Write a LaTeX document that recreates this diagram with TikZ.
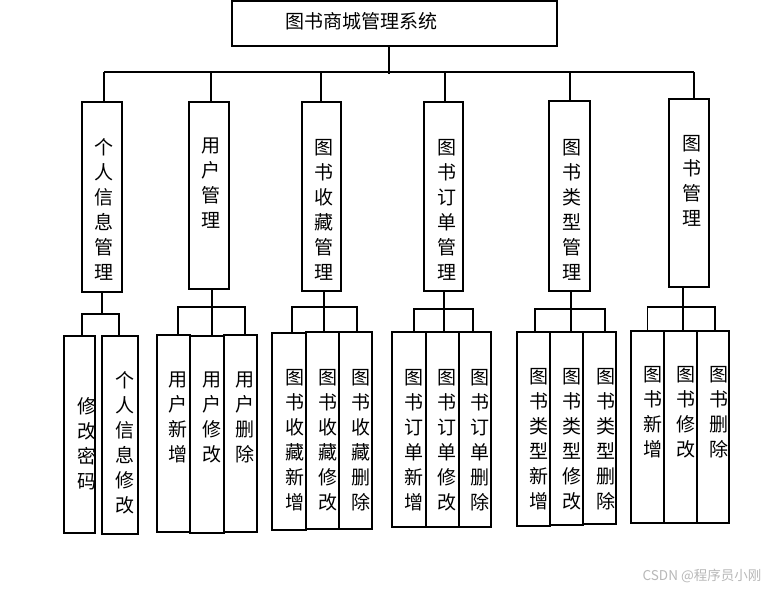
\documentclass[tikz,border=0pt]{standalone}
\usepackage{fontspec}
\newfontfamily\cjk{Noto Sans CJK SC}
\begin{document}
\begin{tikzpicture}[x=1pt,y=-1pt,
  box/.style={draw, line width=1.1pt, inner sep=0pt, outer sep=0pt},
  txt/.style={font=\cjk\fontsize{19}{25}\selectfont, align=center, inner sep=0pt},
  conn/.style={line width=1.1pt}]
\fill[white] (0,0) rectangle (772,589);
\useasboundingbox (0,0) rectangle (772,589);

% root
\node[box, minimum width=325, minimum height=45] (root) at (394.5,23.5) {};
\node[txt] (roott) at (361,21) {图书商城管理系统};

% level 1
\node[box, minimum width=40, minimum height=190] (L1a) at (102,197) {};
\node[box, minimum width=40, minimum height=187] (L1b) at (209,195.5) {};
\node[box, minimum width=39, minimum height=189] (L1c) at (321.5,196.5) {};
\node[box, minimum width=39, minimum height=189] (L1d) at (443.5,196.5) {};
\node[box, minimum width=41, minimum height=190] (L1e) at (569.5,196) {};
\node[box, minimum width=40, minimum height=188] (L1f) at (689,193) {};
\node[txt] (L1at) at (104,209.5) {个\\人\\信\\息\\管\\理};
\node[txt] (L1bt) at (211,183.5) {用\\户\\管\\理};
\node[txt] (L1ct) at (324,209.5) {图\\书\\收\\藏\\管\\理};
\node[txt] (L1dt) at (447,209.5) {图\\书\\订\\单\\管\\理};
\node[txt] (L1et) at (572,209.5) {图\\书\\类\\型\\管\\理};
\node[txt] (L1ft) at (692,181) {图\\书\\管\\理};

% level 2 boxes
\node[box, minimum width=31, minimum height=197] (a1) at (79.5,434.5) {};
\node[box, minimum width=36, minimum height=198] (a2) at (120,435) {};
\node[box, minimum width=33, minimum height=197] (b1) at (173.5,433.5) {};
\node[box, minimum width=34, minimum height=197] (b2) at (207,434.5) {};
\node[box, minimum width=33, minimum height=197] (b3) at (240.5,433.5) {};
\node[box, minimum width=34, minimum height=197] (c1) at (289,431.5) {};
\node[box, minimum width=33, minimum height=197] (c2) at (322.5,430.5) {};
\node[box, minimum width=33, minimum height=197] (c3) at (355.5,430.5) {};
\node[box, minimum width=34, minimum height=195] (d1) at (409,429.5) {};
\node[box, minimum width=33, minimum height=195] (d2) at (442.5,429.5) {};
\node[box, minimum width=32, minimum height=195] (d3) at (475,429.5) {};
\node[box, minimum width=33, minimum height=194] (e1) at (533.5,429) {};
\node[box, minimum width=33, minimum height=193] (e2) at (566.5,428.5) {};
\node[box, minimum width=33, minimum height=192] (e3) at (599.5,428) {};
\node[box, minimum width=33, minimum height=192] (f1) at (647.5,427) {};
\node[box, minimum width=33, minimum height=192] (f2) at (680.5,427) {};
\node[box, minimum width=32, minimum height=192] (f3) at (713,427) {};

% level 2 texts
\node[txt] (a1t) at (87,443.5) {修\\改\\密\\码};
\node[txt] (a2t) at (125,442.5) {个\\人\\信\\息\\修\\改};
\node[txt] (b1t) at (178,417) {用\\户\\新\\增};
\node[txt] (b2t) at (212,417) {用\\户\\修\\改};
\node[txt] (b3t) at (245,417) {用\\户\\删\\除};
\node[txt] (c1t) at (295,440.5) {图\\书\\收\\藏\\新\\增};
\node[txt] (c2t) at (328,440.5) {图\\书\\收\\藏\\修\\改};
\node[txt] (c3t) at (361,440.5) {图\\书\\收\\藏\\删\\除};
\node[txt] (d1t) at (414,440) {图\\书\\订\\单\\新\\增};
\node[txt] (d2t) at (447,440) {图\\书\\订\\单\\修\\改};
\node[txt] (d3t) at (480,440) {图\\书\\订\\单\\删\\除};
\node[txt] (e1t) at (539,439.5) {图\\书\\类\\型\\新\\增};
\node[txt] (e2t) at (572,439.5) {图\\书\\类\\型\\修\\改};
\node[txt] (e3t) at (606,439.5) {图\\书\\类\\型\\删\\除};
\node[txt] (f1t) at (653,412.5) {图\\书\\新\\增};
\node[txt] (f2t) at (686,412.5) {图\\书\\修\\改};
\node[txt] (f3t) at (719,412.5) {图\\书\\删\\除};

% top connectors
\coordinate (tb) at (389,72);
\draw[conn] (root.south -| tb) -- ([yshift=-2]tb);
\draw[conn] ([xshift=2]L1a.north |- tb) -- ([xshift=5]L1f.north |- tb);
\draw[conn] ([xshift=2]L1a.north |- tb) -- ([xshift=2]L1a.north);
\draw[conn] ([xshift=2]L1b.north |- tb) -- ([xshift=2]L1b.north);
\draw[conn] ([xshift=-0.5]L1c.north |- tb) -- ([xshift=-0.5]L1c.north);
\draw[conn] ([xshift=1.5]L1d.north |- tb) -- ([xshift=1.5]L1d.north);
\draw[conn] ([xshift=0.5]L1e.north |- tb) -- ([xshift=0.5]L1e.north);
\draw[conn] ([xshift=5]L1f.north |- tb) -- ([xshift=5]L1f.north);

% group buses
\coordinate (busa) at (0,314);
\coordinate (busb) at (0,307);
\coordinate (busc) at (0,307);
\coordinate (busd) at (0,309);
\coordinate (buse) at (0,309);
\coordinate (busf) at (0,307);

% group a
\draw[conn] (L1a.south) -- (L1a.south |- busa);
\draw[conn] ([xshift=2.5]a1.north) |- ([xshift=-1]a2.north |- busa) -- ([xshift=-1]a2.north);
% group b
\draw[conn] ([xshift=3]L1b.south) -- ([xshift=3]L1b.south |- busb);
\draw[conn] ([xshift=4.5]b1.north) |- ([xshift=4.5]b3.north |- busb) -- ([xshift=4.5]b3.north);
\draw[conn] ([xshift=5]b2.north |- busb) -- ([xshift=5]b2.north);
% group c
\draw[conn] ([xshift=2.5]L1c.south) -- ([xshift=2.5]L1c.south |- busc);
\draw[conn] ([xshift=3]c1.north) |- ([xshift=1.5]c3.north |- busc) -- ([xshift=1.5]c3.north);
\draw[conn] ([xshift=1.5]c2.north |- busc) -- ([xshift=1.5]c2.north);
% group d
\draw[conn] ([xshift=0.5]L1d.south) -- ([xshift=0.5]L1d.south |- busd);
\draw[conn] ([xshift=5]d1.north) |- ([xshift=-2]d3.north |- busd) -- ([xshift=-2]d3.north);
\draw[conn] ([xshift=1.5]d2.north |- busd) -- ([xshift=1.5]d2.north);
% group e
\draw[conn] ([xshift=1.5]L1e.south) -- ([xshift=1.5]L1e.south |- buse);
\draw[conn] ([xshift=1.5]e1.north) |- ([xshift=5.5]e3.north |- buse) -- ([xshift=5.5]e3.north);
\draw[conn] ([xshift=4.5]e2.north |- buse) -- ([xshift=4.5]e2.north);
% group f
\draw[conn] ([xshift=-6]L1f.south) -- ([xshift=-6]L1f.south |- busf);
\draw[conn] (f1.north) |- ([xshift=2]f3.north |- busf) -- ([xshift=2]f3.north);
\draw[conn] ([xshift=2.5]f2.north |- busf) -- ([xshift=2.5]f2.north);

% watermark
\node[font=\cjk\fontsize{13.5}{14}\selectfont, text=black!28, inner sep=0pt] (wm) at (702,576) {CSDN @程序员小刚};
\end{tikzpicture}
\end{document}
